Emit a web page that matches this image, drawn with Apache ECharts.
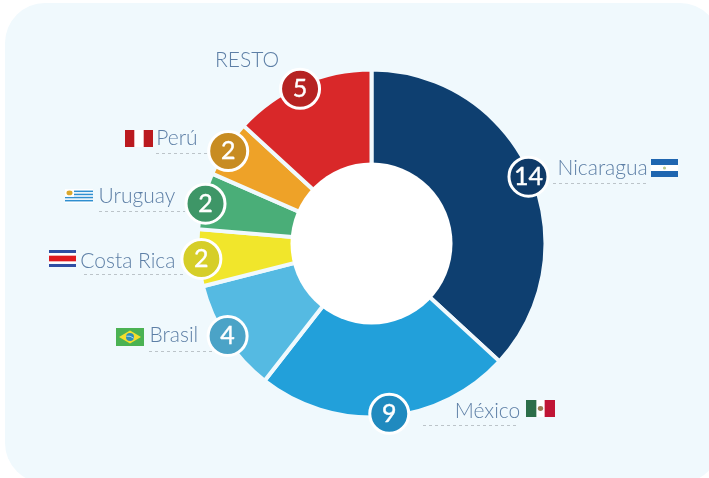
<!DOCTYPE html>
<html>
<head>
<meta charset="utf-8">
<style>html,body{margin:0;padding:0;background:#fff}#c{width:709px;height:478px}</style>
<script src="https://cdn.jsdelivr.net/npm/echarts@6/dist/echarts.min.js"></script>
</head>
<body>
<div id="c"></div>
<script>
const categories = ['Nicaragua','México','Brasil','Costa Rica','Uruguay','Perú','RESTO'];
const values = [14,9,4,2,2,2,5];
const badgeAngles = [7.05,18.37,25.06,27.97,29.94,31.98,35.39];
const sliceColors = ['#0e3f70','#22a0da','#55bae2','#f1e62b','#4aae78','#eea228','#d92829'];
const badgeColors = ['#0f3a68','#208abf','#4ba3c7','#d6ce28','#3e9667','#c88c22','#b62322'];
const labelOffsets = [[29,-8],[65.5,-3],[-78,-1],[-121,2],[-107,-7],[-72,-13],[-85,-29]];
const panelColor = '#f0f9fd';
const textColor = '#386090';

const svg = s => 'data:image/svg+xml;charset=utf-8,' + encodeURIComponent(
  '<svg xmlns="http://www.w3.org/2000/svg" width="28" height="18" viewBox="0 0 28 18" preserveAspectRatio="none" shape-rendering="geometricPrecision">' + s + '</svg>');
const flags = [
  {x:651,y:159,w:27,h:18,img:svg('<rect width="28" height="18" fill="#fff"/><rect width="28" height="6" fill="#1f66b0"/><rect y="12" width="28" height="6" fill="#1f66b0"/><circle cx="14" cy="9" r="1.6" fill="#b8c98a"/>')},
  {x:526,y:400,w:29,h:17,img:svg('<rect width="28" height="18" fill="#fff"/><rect width="10" height="18" fill="#2c6e49"/><rect x="18" width="10" height="18" fill="#c01535"/><circle cx="14" cy="9" r="2.6" fill="#9a7b52"/>')},
  {x:116,y:328,w:28,h:18,img:svg('<rect width="28" height="18" fill="#4bb253"/><path d="M14 2.5 25 9 14 15.5 3 9z" fill="#f4de2c"/><circle cx="14" cy="9" r="4" fill="#2f8fb8"/><path d="M10.3 8.2q4-.8 7.4 2" stroke="#cfe8ef" stroke-width=".8" fill="none"/>')},
  {x:49,y:250,w:27,h:17,img:svg('<rect width="28" height="18" fill="#2f4ea3"/><rect y="3.2" width="28" height="11.6" fill="#fff"/><rect y="6" width="28" height="6" fill="#e01a1f"/>')},
  {x:65,y:189,w:28,h:14,img:svg('<rect width="28" height="18" fill="#fff"/><rect y="2" width="28" height="2" fill="#2f8fd0"/><rect y="6" width="28" height="2" fill="#2f8fd0"/><rect y="10" width="28" height="2" fill="#2f8fd0"/><rect y="14" width="28" height="2" fill="#2f8fd0"/><rect width="9" height="10" fill="#fff"/><circle cx="4.5" cy="5" r="3" fill="#d9a82e"/>')},
  {x:125,y:130,w:28,h:17,img:svg('<rect width="28" height="18" fill="#fff"/><rect width="9.3" height="18" fill="#bb1a1f"/><rect x="18.7" width="9.3" height="18" fill="#bb1a1f"/>')}
];
const dashes = [[553,648,183],[423,519,425],[149,215,351],[84,185,274],[99,185,211],[156,207,153]];

const total = values.reduce((a,b)=>a+b,0);
const badgeR = 0.993;

const chart = echarts.init(document.getElementById('c'));
chart.setOption({
  animation:false,
  graphic:{elements:[
    {type:'rect',shape:{x:5,y:3,width:715,height:480,r:40},style:{fill:panelColor},silent:true},
    ...flags.map(f=>({type:'image',style:{image:f.img,x:f.x,y:f.y,width:f.w,height:f.h},silent:true})),
    ...dashes.map(d=>({type:'line',shape:{x1:d[0],y1:d[2]+.5,x2:d[1],y2:d[2]+.5},style:{stroke:'#bcc4c9',lineWidth:1,lineDash:[3,3]},silent:true}))
  ]},
  polar:{center:[371.5,244],radius:172},
  angleAxis:{type:'value',min:0,max:total,startAngle:90,show:false},
  radiusAxis:{type:'value',min:0,max:1,show:false},
  series:[
    {type:'pie',center:[371.5,243.5],radius:[70,174],startAngle:90,silent:true,z:2,
     label:{show:false},labelLine:{show:false},
     itemStyle:{borderColor:panelColor,borderWidth:4},
     data:categories.map((n,i)=>({name:n,value:values[i],itemStyle:{color:sliceColors[i]}}))},
    {type:'pie',center:[371.5,243.5],radius:[0,81],silent:true,z:3,label:{show:false},labelLine:{show:false},
     data:[{value:1,itemStyle:{color:'#fff'}}]},
    {type:'scatter',coordinateSystem:'polar',silent:true,z:4,symbol:'circle',symbolSize:0,
     data:categories.map((n,i)=>({value:[badgeR,badgeAngles[i]],name:n,
       label:{show:true,position:'inside',formatter:n,align:'left',verticalAlign:'middle',
         offset:labelOffsets[i],color:textColor,fontFamily:'Lato',fontWeight:300,fontSize:21}}))},
    {type:'scatter',coordinateSystem:'polar',silent:true,z:5,symbol:'circle',symbolSize:39,
     data:categories.map((n,i)=>({value:[badgeR,badgeAngles[i]],
       itemStyle:{color:badgeColors[i],borderColor:'#fff',borderWidth:3,opacity:1},
       label:{show:true,position:'inside',formatter:String(values[i]),color:'#fff',fontFamily:'Lato',fontSize:25,fontWeight:400,textBorderColor:'#fff',textBorderWidth:0.4}}))}
  ]
});
</script>
</body>
</html>
